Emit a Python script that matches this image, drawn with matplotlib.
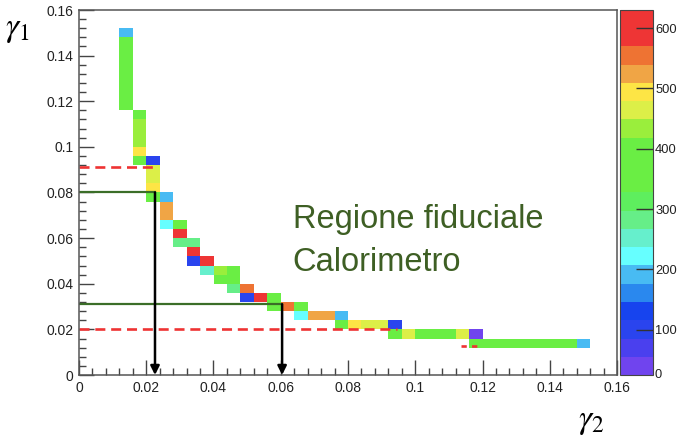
import numpy as np
import matplotlib
matplotlib.use('Agg')
import matplotlib.pyplot as plt
from matplotlib.colors import ListedColormap, BoundaryNorm
from matplotlib.ticker import MultipleLocator, FuncFormatter

# filled cells of the 2D histogram: bin centres (gamma2, gamma1) and entries
gamma2 = ([0.014] * 9
          + [0.018] * 6
          + [0.022] * 5
          + [0.026] * 4
          + [0.030] * 3
          + [0.034] * 3
          + [0.038] * 2
          + [0.042] * 2
          + [0.046] * 3
          + [0.050] * 2
          + [0.054]
          + [0.058] * 2
          + [0.062]
          + [0.066] * 2
          + [0.070, 0.074]
          + [0.078] * 2
          + [0.082, 0.086, 0.090]
          + [0.094] * 2
          + [0.098, 0.102, 0.106, 0.110, 0.114]
          + [0.118] * 2
          + [0.122, 0.126, 0.130, 0.134, 0.138, 0.142, 0.146, 0.150])
gamma1 = ([0.118, 0.122, 0.126, 0.130, 0.134, 0.138, 0.142, 0.146, 0.150]
          + [0.114, 0.110, 0.106, 0.102, 0.098, 0.094]
          + [0.094, 0.090, 0.086, 0.082, 0.078]
          + [0.078, 0.074, 0.070, 0.066]
          + [0.066, 0.062, 0.058]
          + [0.058, 0.054, 0.050]
          + [0.050, 0.046]
          + [0.046, 0.042]
          + [0.046, 0.042, 0.038]
          + [0.038, 0.034]
          + [0.034]
          + [0.034, 0.030]
          + [0.030]
          + [0.030, 0.026]
          + [0.026, 0.026]
          + [0.026, 0.022]
          + [0.022, 0.022, 0.022]
          + [0.022, 0.018]
          + [0.018, 0.018, 0.018, 0.018, 0.018]
          + [0.018, 0.014]
          + [0.014] * 8)
counts = ([380] * 8 + [190]
          + [390, 435, 435, 435, 495, 380]
          + [100, 465, 465, 495, 380]
          + [190, 525, 525, 220]
          + [380, 600, 280]
          + [280, 600, 100]
          + [600, 250]
          + [435, 380]
          + [380, 380, 280]
          + [555, 100]
          + [600]
          + [380, 380]
          + [555]
          + [380, 220]
          + [525, 525]
          + [190, 380]
          + [495, 465, 465]
          + [100, 380]
          + [465, 380, 380, 380, 465]
          + [45, 380]
          + [380] * 7 + [190])

# palette bands, low to high
palette = ['#7044ee', '#4a40ee', '#2a44ee', '#1744ee', '#2a88ee',
           '#48bbf3', '#66ffff', '#66efcc', '#66ee88', '#5eee5e',
           '#6aee44', '#6aee44', '#6aee44', '#9aee3c', '#dcef48',
           '#fde545', '#f0a545', '#ee7333', '#ee3535', '#ee3535']
z_min, z_max = 25, 630
z_ticks = [100, 200, 300, 400, 500, 600]

cut_g2 = [0.0226, 0.0604]
cut_g1 = [0.080, 0.031]
loose_g1 = [0.091, 0.020]
loose_g2 = [0.0226, 0.0945]

edges = np.linspace(0, 0.16, 41)
H, _, _ = np.histogram2d(gamma2, gamma1, bins=[edges, edges], weights=counts)
H = np.ma.masked_equal(H.T, 0)

cmap = ListedColormap(palette)
norm = BoundaryNorm(np.linspace(z_min, z_max, len(palette) + 1), cmap.N)

fig = plt.figure(figsize=(6.79, 4.40), dpi=100)
ax = fig.add_axes([79 / 679, 65 / 440, 538 / 679, 365 / 440])
cax = fig.add_axes([620 / 679, 65 / 440, 33 / 679, 365 / 440])

mesh = ax.pcolormesh(edges, edges, H, cmap=cmap, norm=norm, edgecolors='none')

# cut lines
for g2, g1 in zip(loose_g2, loose_g1):
    ax.plot([0, g2], [g1, g1], color='#ee3333', lw=1.9, ls=(0, (3.8, 2.2)),
            solid_capstyle='butt')
ax.plot([0.1135, 0.1185], [0.0128, 0.0128], color='#ee3333', lw=1.9,
        ls=(0, (2.0, 2.0)))
for g2, g1 in zip(cut_g2, cut_g1):
    ax.plot([0, g2], [g1, g1], color='#3b6e28', lw=1.6)
    ax.annotate('', xy=(g2, 0.0), xytext=(g2, g1), annotation_clip=False,
                arrowprops=dict(arrowstyle='-|>', color='black', lw=1.8,
                                mutation_scale=13, shrinkA=0, shrinkB=0))

ax.text(0.0636, 0.0644, 'Regione fiduciale', color='#3e5f24', fontsize=23.5,
        family='Liberation Sans', va='baseline')
ax.text(0.0636, 0.0456, 'Calorimetro', color='#3e5f24', fontsize=23.5,
        family='Liberation Sans', va='baseline')

ax.set_xlim(0, 0.16)
ax.set_ylim(0, 0.16)
fmt = FuncFormatter(lambda v, pos: '%g' % round(v, 4))
for axis in (ax.xaxis, ax.yaxis):
    axis.set_major_locator(MultipleLocator(0.02))
    axis.set_minor_locator(MultipleLocator(0.004))
    axis.set_major_formatter(fmt)
ax.tick_params(which='both', direction='in', top=False, right=False,
               colors='#444', labelcolor='#222', labelsize=10,
               labelfontfamily='Liberation Sans')
ax.tick_params(which='major', length=11, width=1, pad=4)
ax.tick_params(which='minor', length=5, width=1)
for sp in ax.spines.values():
    sp.set_color('#555')
    sp.set_linewidth(1.1)

cb = fig.colorbar(mesh, cax=cax, ticks=z_ticks)
cb.outline.set_linewidth(0.8)
cb.outline.set_edgecolor('#444')
cax.minorticks_off()
cax.tick_params(direction='in', length=12, width=1, color='#333',
                labelsize=9.3, pad=1.5, labelcolor='#222',
                labelfontfamily='Liberation Sans')
cax.text(1.06, 0.0, '0', transform=cax.transAxes, va='center', ha='left',
         fontsize=9.3, color='#222', family='Liberation Sans')

fig.text(0.008, 0.935, r'$\gamma_1$', fontsize=24, math_fontfamily='stix',
         va='center', ha='left')
fig.text(0.851, 0.045, r'$\gamma_2$', fontsize=24, math_fontfamily='stix',
         va='center', ha='left')

fig.savefig('out.png', dpi=100)
